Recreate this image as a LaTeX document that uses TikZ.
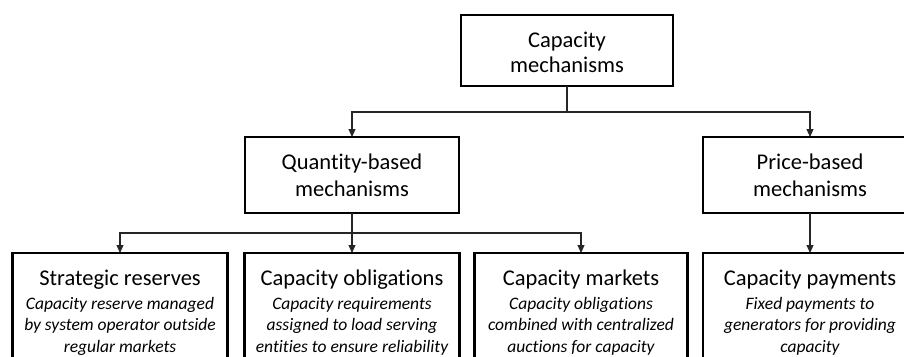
\documentclass[tikz,border=0pt]{standalone}
\usepackage{fontspec}
\setmainfont[Ligatures=NoCommon]{Carlito}
\usetikzlibrary{arrows.meta,calc}
\begin{document}
\begin{tikzpicture}[x=1pt,y=1pt,
  frame/.style={draw=black, line width=2.6pt, inner sep=0pt, outer sep=0pt, rectangle},
  conn/.style={line width=1.1pt, draw=black!85},
  arr/.style={conn, -{Triangle[length=8pt,width=7pt]}},
  ttltop/.style={anchor=base, inner sep=0pt, font=\fontsize{22.5}{25}\selectfont},
  ttlmid/.style={anchor=base, inner sep=0pt, font=\fontsize{22.5}{26.5}\selectfont},
  ttlbot/.style={anchor=base, inner sep=0pt, font=\fontsize{22.5}{25}\selectfont},
  dsc/.style={anchor=base, inner sep=0pt, font=\fontsize{17.5}{21.5}\selectfont\itshape}]
\useasboundingbox (0,0) rectangle (904,-356);
\clip (0,0) rectangle (904,-356);
\fill[white] (0,0) rectangle (904,-356);

% top
\node[frame, minimum width=212pt, minimum height=71pt] (tc) at (567,-50.5) {};
\node[ttltop] (tct) at (567,-47) {\begin{tabular}[t]{@{}c@{}}Capacity\\mechanisms\end{tabular}};

% middle
\node[frame, minimum width=214pt, minimum height=76pt] (qb) at (352,-175) {};
\node[ttlmid] (qbt) at (352,-169.5) {\begin{tabular}[t]{@{}c@{}}Quantity-based\\mechanisms\end{tabular}};
\node[frame, minimum width=214pt, minimum height=76pt] (pb) at (810,-175) {};
\node[ttlmid] (pbt) at (810,-169.5) {\begin{tabular}[t]{@{}c@{}}Price-based\\mechanisms\end{tabular}};

% bottom
\node[frame, minimum width=215pt, minimum height=140pt, anchor=north] (sr) at (120,-253) {};
\node[ttlbot] (srt) at (120,-285) {Strategic reserves};
\node[dsc] (srd) at (120,-309) {\begin{tabular}[t]{@{}c@{}}Capacity reserve managed\\by system operator outside\\regular markets\end{tabular}};

\node[frame, minimum width=215pt, minimum height=140pt, anchor=north] (co) at (352,-253) {};
\node[ttlbot] (cot) at (352,-285) {Capacity obligations};
\node[dsc] (cod) at (352,-309) {\begin{tabular}[t]{@{}c@{}}Capacity requirements\\assigned to load serving\\entities to ensure reliability\end{tabular}};

\node[frame, minimum width=213pt, minimum height=140pt, anchor=north] (cm) at (581,-253) {};
\node[ttlbot] (cmt) at (581,-285) {Capacity markets};
\node[dsc] (cmd) at (581,-309) {\begin{tabular}[t]{@{}c@{}}Capacity obligations\\combined with centralized\\auctions for capacity\end{tabular}};

\node[frame, minimum width=214pt, minimum height=140pt, anchor=north] (cp) at (810,-253) {};
\node[ttlbot] (cpt) at (810,-285) {Capacity payments};
\node[dsc] (cpd) at (810,-309) {\begin{tabular}[t]{@{}c@{}}Fixed payments to\\generators for providing\\capacity\end{tabular}};

% connectors
\coordinate (y1) at (0,-112);
\coordinate (j1) at (tc.south |- y1);
\draw[conn] (tc.south) -- (j1);
\draw[arr] (j1) -| (qb.north);
\draw[arr] (j1) -| (pb.north);

\coordinate (y2) at (0,-233);
\coordinate (j2) at (qb.south |- y2);
\draw[arr] (qb.south) -- (co.north);
\draw[arr] (j2) -| (sr.north);
\draw[arr] (j2) -| (cm.north);

\draw[arr] (pb.south) -- (cp.north);
\end{tikzpicture}
\end{document}
